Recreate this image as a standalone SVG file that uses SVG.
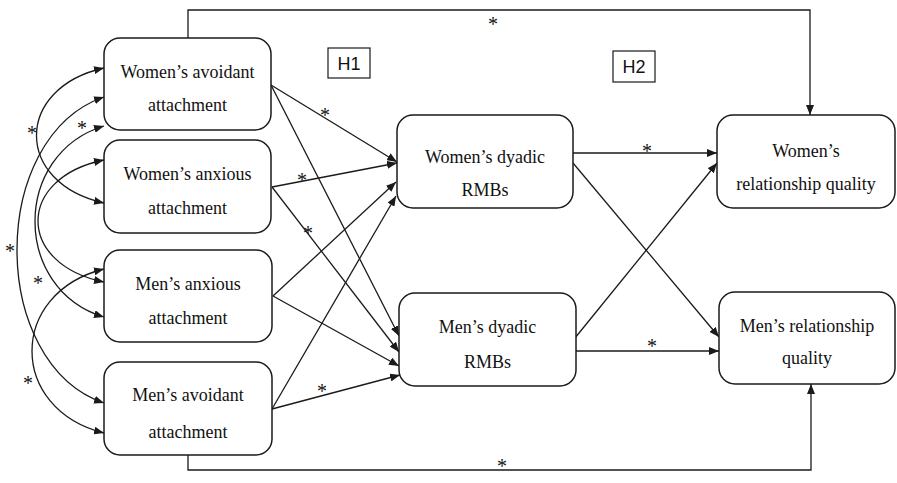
<svg xmlns="http://www.w3.org/2000/svg" width="897" height="483" viewBox="0 0 897 483">
<defs>
<marker id="ah" markerUnits="userSpaceOnUse" markerWidth="10" markerHeight="8" refX="10" refY="4" orient="auto-start-reverse">
<path d="M0,0 L10,4 L0,8 z" fill="#1a1a1a"/>
</marker>
<style>
.box{fill:#fff;stroke:#1a1a1a;stroke-width:1.5}
.t{font-family:"Liberation Serif","Times New Roman",serif;font-size:18px;fill:#111;text-anchor:middle}
.h{font-family:"Liberation Sans",Arial,sans-serif;font-size:18px;fill:#111;text-anchor:middle}
.hb{fill:#fff;stroke:#1a1a1a;stroke-width:1.2}
.e{fill:none;stroke:#1a1a1a;stroke-width:1.3;marker-end:url(#ah)}
.c{fill:none;stroke:#1a1a1a;stroke-width:1.3;marker-start:url(#ah);marker-end:url(#ah)}
.s{font-family:"Liberation Serif","Times New Roman",serif;font-size:20px;fill:#111;text-anchor:middle}
</style>
</defs>
<rect width="897" height="483" fill="#fff"/>

<g id="connectors">
<path class="e" d="M188,38 V10 H810 V115"/>
<path class="e" d="M188,455 V470 H811 V384"/>
<path class="e" d="M271,85 L397,162"/>
<path class="e" d="M271,85 L399,336"/>
<path class="e" d="M272,187 L397,163"/>
<path class="e" d="M272,187 L399,352"/>
<path class="e" d="M273,296 L396,182"/>
<path class="e" d="M273,296 L399,366"/>
<path class="e" d="M272,409 L396,196"/>
<path class="e" d="M272,409 L400,375"/>
<path class="e" d="M573,153 L717,153"/>
<path class="e" d="M573,163 L719,337"/>
<path class="e" d="M575,338 L717,163"/>
<path class="e" d="M575,351 L719,351"/>
<path class="c" d="M104,68 C14,88 14,183 104,203"/>
<path class="c" d="M104,97 C-12,137 -12,363 104,403"/>
<path class="c" d="M104,126 C12,154 12,289 104,317"/>
<path class="c" d="M104,160 C16,178 16,264 104,282"/>
<path class="c" d="M104,269 C8,293 8,409 104,433"/>
</g>

<g id="stars">
<text class="s" x="493" y="31">*</text>
<text class="s" x="502" y="473">*</text>
<text class="s" x="325" y="122">*</text>
<text class="s" x="302" y="187">*</text>
<text class="s" x="308" y="240">*</text>
<text class="s" x="322" y="398">*</text>
<text class="s" x="647" y="158">*</text>
<text class="s" x="652" y="353">*</text>
<text class="s" x="32" y="140">*</text>
<text class="s" x="82" y="135">*</text>
<text class="s" x="10" y="258">*</text>
<text class="s" x="38" y="290">*</text>
<text class="s" x="28" y="390">*</text>
</g>

<g id="H1"><rect class="hb" x="328" y="48" width="42" height="30"/><text class="h" x="349" y="70">H1</text></g>
<g id="H2"><rect class="hb" x="613" y="51" width="42" height="31"/><text class="h" x="634" y="73">H2</text></g>

<g id="womens-avoidant"><rect class="box" x="104" y="38" width="167" height="92" rx="16"/><text class="t" x="187.5" y="78">Women’s avoidant</text><text class="t" x="187.5" y="111">attachment</text></g>
<g id="womens-anxious"><rect class="box" x="104" y="140" width="167" height="93" rx="16"/><text class="t" x="187.5" y="180">Women’s anxious</text><text class="t" x="187.5" y="214">attachment</text></g>
<g id="mens-anxious"><rect class="box" x="104" y="250" width="168" height="92" rx="16"/><text class="t" x="188" y="290">Men’s anxious</text><text class="t" x="188" y="324">attachment</text></g>
<g id="mens-avoidant"><rect class="box" x="104" y="362" width="168" height="93" rx="16"/><text class="t" x="188" y="401">Men’s avoidant</text><text class="t" x="188" y="438">attachment</text></g>
<g id="womens-dyadic"><rect class="box" x="397" y="115" width="176" height="93" rx="16"/><text class="t" x="485" y="163">Women’s dyadic</text><text class="t" x="485" y="196">RMBs</text></g>
<g id="mens-dyadic"><rect class="box" x="399" y="293" width="177" height="93" rx="16"/><text class="t" x="487.5" y="333">Men’s dyadic</text><text class="t" x="487.5" y="368">RMBs</text></g>
<g id="womens-rq"><rect class="box" x="717" y="115" width="178" height="93" rx="16"/><text class="t" x="806" y="157">Women’s</text><text class="t" x="806" y="190">relationship quality</text></g>
<g id="mens-rq"><rect class="box" x="719" y="292" width="176" height="92" rx="16"/><text class="t" x="807" y="332">Men’s relationship</text><text class="t" x="807" y="364">quality</text></g>
</svg>
